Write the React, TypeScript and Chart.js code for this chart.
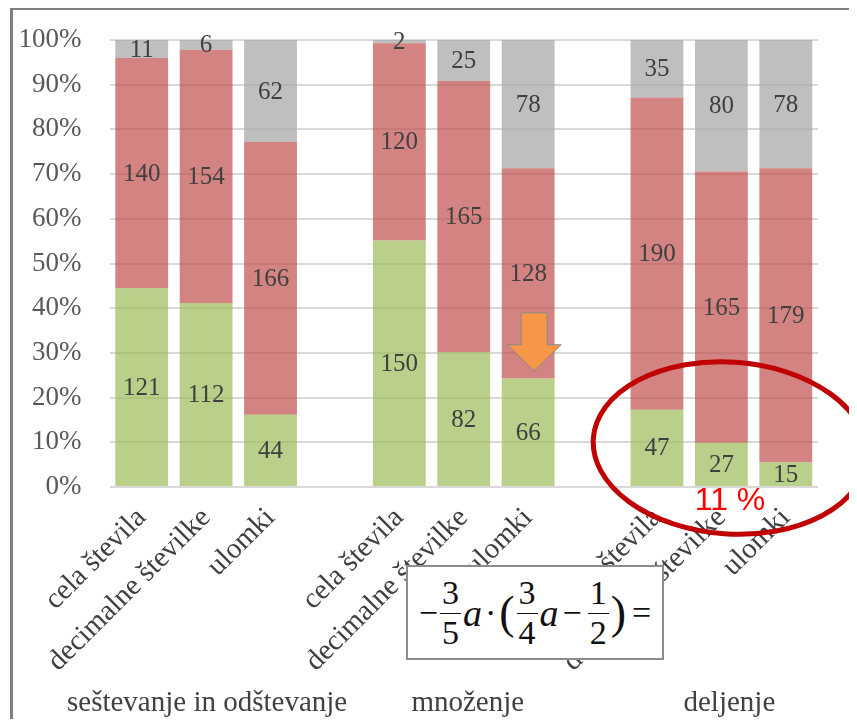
import React, { useEffect, useRef } from 'react';
import { Chart, registerables } from 'chart.js';

Chart.register(...registerables);

// ---- data ----
const categories = [
  'cela števila', 'decimalne številke', 'ulomki', '',
  'cela števila', 'decimalne številke', 'ulomki', '',
  'cela števila', 'decimalne številke', 'ulomki',
];
const groupLabels = ['seštevanje in odštevanje', 'množenje', 'deljenje'];
const groupCenterIndex = [1, 5, 9];
const correctCounts = [121, 112, 44, null, 150, 82, 66, null, 47, 27, 15];
const wrongCounts = [140, 154, 166, null, 120, 165, 128, null, 190, 165, 179];
const missingCounts = [11, 6, 62, null, 2, 25, 78, null, 35, 80, 78];
const highlightText = '11 %';

const totals = categories.map((_, i) =>
  (correctCounts[i] ?? 0) + (wrongCounts[i] ?? 0) + (missingCounts[i] ?? 0)
);
const toPct = (arr: (number | null)[]) =>
  arr.map((v, i) => (v == null || !totals[i] ? null : (v / totals[i]) * 100));

const SERIF = '"Liberation Serif", "Times New Roman", serif';

const overlayPlugin = {
  id: 'overlayPlugin',
  afterDatasetsDraw(chart: any) {
    const ctx = chart.ctx;
    ctx.save();
    ctx.font = `25px ${SERIF}`;
    ctx.fillStyle = '#404040';
    ctx.textAlign = 'center';
    ctx.textBaseline = 'middle';
    chart.data.datasets.forEach((ds: any, di: number) => {
      const meta = chart.getDatasetMeta(di);
      meta.data.forEach((el: any, i: number) => {
        const raw = ds.rawCounts[i];
        if (raw == null) return;
        const cy = (el.y + el.base) / 2;
        ctx.fillText(String(raw), el.x, cy + 1);
      });
    });
    ctx.restore();
  },
  afterDraw(chart: any) {
    const ctx = chart.ctx;
    const xs = chart.scales.x;
    const ys = chart.scales.y;
    ctx.save();
    // group labels
    ctx.font = `29px ${SERIF}`;
    ctx.fillStyle = '#404040';
    ctx.textAlign = 'center';
    ctx.textBaseline = 'middle';
    groupLabels.forEach((g, i) => {
      ctx.fillText(g, xs.getPixelForValue(groupCenterIndex[i]) + (i === 0 ? 1 : i === 1 ? 4 : 8), 703);
    });

    // orange arrow
    const ax = xs.getPixelForValue(6) + 6;
    const tipY = ys.getPixelForValue(26);
    ctx.beginPath();
    ctx.moveTo(ax - 13, tipY - 58);
    ctx.lineTo(ax + 13, tipY - 58);
    ctx.lineTo(ax + 13, tipY - 26);
    ctx.lineTo(ax + 27, tipY - 26);
    ctx.lineTo(ax, tipY);
    ctx.lineTo(ax - 27, tipY - 26);
    ctx.lineTo(ax - 13, tipY - 26);
    ctx.closePath();
    ctx.fillStyle = '#f79646';
    ctx.fill();
    ctx.strokeStyle = '#8a8a8a';
    ctx.lineWidth = 1;
    ctx.stroke();

    // red ellipse
    ctx.beginPath();
    ctx.ellipse(730, 448, 137, 86, 0.07, 0, Math.PI * 2);
    ctx.strokeStyle = '#c00000';
    ctx.lineWidth = 5;
    ctx.stroke();

    // highlight text
    ctx.font = `32px "Liberation Sans", Arial, sans-serif`;
    ctx.fillStyle = '#ff0000';
    ctx.textAlign = 'center';
    ctx.textBaseline = 'middle';
    ctx.fillText(highlightText, 730, 501);
    ctx.restore();
  },
};

const Frac = ({ n, d }: { n: string; d: string }) => (
  <span
    style={{
      display: 'inline-flex',
      flexDirection: 'column',
      alignItems: 'center',
      lineHeight: 1,
      margin: '0 2px',
    }}
  >
    <span style={{ padding: '0 2px' }}>{n}</span>
    <span style={{ borderTop: '1.5px solid #111', alignSelf: 'stretch', margin: '3px 0 2px' }} />
    <span>{d}</span>
  </span>
);

export default function App() {
  const canvasRef = useRef<HTMLCanvasElement | null>(null);

  useEffect(() => {
    if (!canvasRef.current) return;
    const chart = new Chart(canvasRef.current, {
      type: 'bar',
      data: {
        labels: categories,
        datasets: [
          {
            label: 'pravilno',
            data: toPct(correctCounts) as any,
            rawCounts: correctCounts,
            backgroundColor: 'rgba(155,187,89,0.7)',
            borderWidth: 0,
          } as any,
          {
            label: 'napačno',
            data: toPct(wrongCounts) as any,
            rawCounts: wrongCounts,
            backgroundColor: 'rgba(192,80,77,0.7)',
            borderWidth: 0,
          } as any,
          {
            label: 'brez odgovora',
            data: toPct(missingCounts) as any,
            rawCounts: missingCounts,
            backgroundColor: 'rgba(166,166,166,0.72)',
            borderWidth: 0,
          } as any,
        ],
      },
      options: {
        responsive: false,
        animation: false,
        maintainAspectRatio: false,
        layout: { padding: { top: 40, right: 39, left: 0, bottom: 0 } },
        plugins: {
          legend: { display: false },
          tooltip: { enabled: false },
        },
        datasets: {
          bar: { barPercentage: 0.82, categoryPercentage: 1 },
        },
        scales: {
          x: {
            stacked: true,
            grid: { display: false, drawTicks: false },
            border: { display: false },
            afterFit: (axis: any) => {
              axis.height = 240;
            },
            ticks: {
              autoSkip: false,
              maxRotation: 45,
              minRotation: 45,
              padding: 14,
              color: '#404040',
              font: { family: SERIF, size: 29 },
            },
          },
          y: {
            stacked: true,
            min: 0,
            max: 100,
            afterFit: (axis: any) => {
              axis.width = 109.5;
              axis.paddingTop = 0;
              axis.paddingBottom = 0;
            },
            grid: { color: '#d9d9d9', lineWidth: 2, drawTicks: false },
            border: { display: false },
            ticks: {
              stepSize: 10,
              padding: 28,
              color: '#595959',
              font: { family: SERIF, size: 27 },
              callback: (v: any) => `${v}%`,
            },
          },
        },
      },
      plugins: [overlayPlugin],
    } as any);
    return () => chart.destroy();
  }, []);

  return (
    <div style={{ position: 'relative', width: 857, height: 727, margin: -8, overflow: 'hidden', background: '#fff' }}>
      <canvas ref={canvasRef} width={857} height={727} style={{ position: 'absolute', left: 0, top: 0, width: 857, height: 727 }} />
      <div
        style={{
          position: 'absolute',
          left: 10,
          top: 7,
          width: 900,
          height: 800,
          borderTop: '3px solid #7f7f7f',
          borderLeft: '3px solid #7f7f7f',
          pointerEvents: 'none',
        }}
      />
      <div
        style={{
          position: 'absolute',
          left: 406,
          top: 565,
          width: 258,
          height: 95,
          boxSizing: 'border-box',
          border: '2px solid #8c8c8c',
          background: '#fff',
          display: 'flex',
          alignItems: 'center',
          justifyContent: 'center',
          fontFamily: SERIF,
          fontSize: 34,
          color: '#111',
          whiteSpace: 'nowrap',
        }}
      >
        <span>−</span>
        <Frac n="3" d="5" />
        <i style={{ fontSize: 38 }}>a</i>
        <span style={{ margin: '0 3px' }}>·</span>
        <span style={{ fontSize: 46, lineHeight: 1 }}>(</span>
        <Frac n="3" d="4" />
        <i style={{ fontSize: 38 }}>a</i>
        <span style={{ margin: '0 4px' }}>−</span>
        <Frac n="1" d="2" />
        <span style={{ fontSize: 46, lineHeight: 1 }}>)</span>
        <span style={{ marginLeft: 6 }}>=</span>
      </div>
    </div>
  );
}
